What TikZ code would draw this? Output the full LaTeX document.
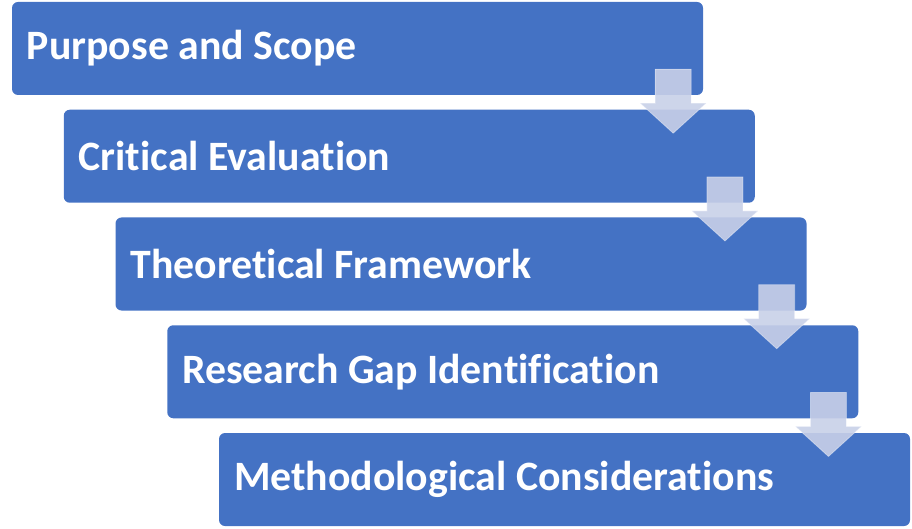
\documentclass[tikz,border=0pt]{standalone}
\usepackage{fontspec}
\setmainfont[Ligatures=NoCommon]{Carlito}
\usetikzlibrary{calc}
\definecolor{stepblue}{RGB}{68,114,196}
\definecolor{arrowgrey}{RGB}{200,208,232}
\tikzset{
  stage/.style={fill=stepblue,rounded corners=6pt,minimum width=691pt,minimum height=93pt,
    text=white,font=\fontsize{41.8}{41.8}\selectfont\bfseries,
    align=flush left,text width=661pt,inner sep=0pt},
  downarrow/.style={fill=arrowgrey,fill opacity=0.9,draw=white,draw opacity=0.4,line width=0.8pt}
}
\newcommand{\stagearrow}[1]{% block arrow under the right end of a stage
  \path[downarrow] ($(#1.south east)+(-48pt,26pt)$) -- ++(36pt,0) -- ++(0,-34pt) -- ++(15pt,0)
    -- ++(-33pt,-30pt) -- ++(-33pt,30pt) -- ++(15pt,0) -- cycle;}
\begin{document}
\begin{tikzpicture}[x=1pt,y=1pt]
        \useasboundingbox (0,0) rectangle (912,528);
        % the five stages
        \node[stage] (purpose)  at (357.5,479.5) {Purpose and Scope};
        \node[stage] (critical) at (409.25,371.75) {Critical Evaluation};
        \node[stage] (theory)   at (461,264) {Theoretical Framework};
        \node[stage] (gap)      at (512.75,156.25) {Research Gap Identification};
        \node[stage] (method)   at (564.5,48.5) {Methodological Considerations};
        % arrows between them
        \stagearrow{purpose}
        \stagearrow{critical}
        \stagearrow{theory}
        \stagearrow{gap}
\end{tikzpicture}
\end{document}
